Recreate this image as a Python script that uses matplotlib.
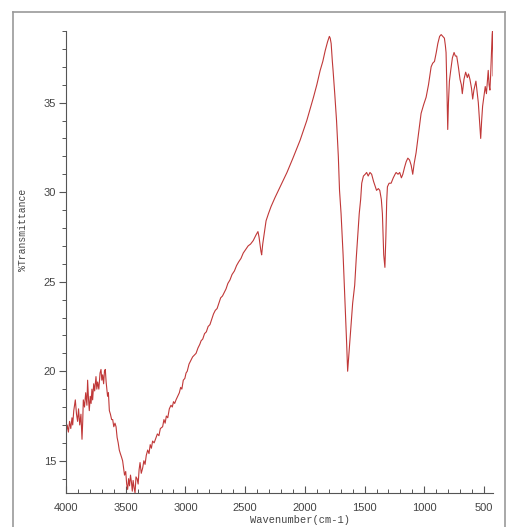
import numpy as np
import matplotlib
matplotlib.use("Agg")
import matplotlib.pyplot as plt
from matplotlib.ticker import MultipleLocator
from matplotlib.lines import Line2D

# FTIR spectrum: wavenumber (cm-1) and % transmittance
wavenumber = [
    4000, 3990, 3980, 3970, 3960, 3950, 3944, 3935, 3922, 3912, 3903, 3895,
    3885, 3875, 3866, 3860, 3855, 3845, 3835, 3825, 3819, 3812, 3805, 3797,
    3790, 3783, 3777, 3768, 3760, 3749, 3742, 3735, 3725, 3715, 3707, 3700,
    3693, 3685, 3678, 3671, 3664, 3658, 3652, 3645, 3637, 3628, 3618, 3609,
    3600, 3590, 3581, 3572, 3563, 3554, 3545, 3535, 3526, 3518, 3510, 3500,
    3492, 3484, 3476, 3468, 3460, 3452, 3445, 3438, 3430, 3422, 3414, 3405,
    3396, 3388, 3380, 3370, 3358, 3348, 3338, 3328, 3316, 3305, 3295, 3285,
    3275, 3262, 3246, 3235, 3222, 3210, 3191, 3180, 3170, 3160, 3148, 3135,
    3121, 3110, 3100, 3090, 3079, 3065, 3051, 3040, 3030, 3018, 3005, 2995,
    2985, 2970, 2955, 2940, 2925, 2911, 2895, 2880, 2869, 2855, 2840, 2825,
    2810, 2795, 2780, 2765, 2750, 2735, 2720, 2705, 2690, 2675, 2660, 2645,
    2627, 2610, 2590, 2572, 2555, 2535, 2516, 2495, 2475, 2455, 2432, 2410,
    2393, 2384, 2376, 2368, 2362, 2356, 2353, 2340, 2325, 2305, 2283, 2250,
    2200, 2150, 2100, 2040, 1984, 1928, 1900, 1872, 1850, 1830, 1810, 1800,
    1795, 1788, 1780, 1770, 1764, 1750, 1735, 1720, 1710, 1697, 1680, 1665,
    1650, 1642, 1620, 1600, 1583, 1570, 1558, 1545, 1533, 1524, 1510, 1495,
    1483, 1470, 1455, 1441, 1425, 1410, 1400, 1385, 1373, 1360, 1351, 1340,
    1330, 1322, 1315, 1309, 1295, 1278, 1260, 1245, 1236, 1220, 1206, 1192,
    1180, 1165, 1152, 1138, 1124, 1110, 1097, 1085, 1069, 1050, 1027, 1005,
    985, 965, 943, 930, 915, 900, 887, 872, 859, 845, 832, 824,
    818, 810, 804, 798, 790, 779, 765, 751, 740, 729, 715, 701,
    690, 682, 668, 654, 640, 630, 618, 605, 595, 585, 568, 558,
    548, 538, 528, 520, 512, 500, 490, 480, 472, 465, 458, 451,
    445, 438, 432, 429, 426, 424,
]
transmittance = [
    16.5, 17.0, 16.6, 17.2, 16.8, 17.4, 17.0, 17.8, 18.4, 17.6, 17.2, 17.9,
    17.0, 17.6, 16.2, 17.2, 18.4, 18.0, 18.8, 18.1, 19.5, 18.5, 17.8, 18.6,
    18.2, 19.0, 18.4, 19.3, 18.9, 19.7, 19.0, 19.4, 19.0, 19.9, 20.1, 19.5,
    19.8, 19.3, 20.0, 20.1, 19.4, 19.0, 18.6, 18.8, 17.8, 17.6, 17.3, 17.3,
    16.9, 17.1, 16.9, 16.3, 16.0, 15.6, 15.4, 15.2, 15.0, 14.6, 14.2, 14.4,
    13.7, 13.4, 14.0, 13.6, 14.2, 13.8, 13.3, 13.9, 13.5, 13.2, 14.1, 14.0,
    13.7, 14.5, 14.9, 14.3, 14.6, 15.0, 14.8, 15.3, 15.6, 15.4, 15.9, 15.7,
    16.1, 16.0, 16.3, 16.5, 16.4, 16.8, 16.9, 17.3, 17.1, 17.5, 17.4, 17.9,
    18.1, 18.0, 18.3, 18.2, 18.4, 18.6, 18.8, 19.1, 19.0, 19.5, 19.6, 19.9,
    20.0, 20.4, 20.6, 20.8, 20.9, 21.0, 21.3, 21.5, 21.7, 21.8, 22.1, 22.2,
    22.5, 22.6, 22.9, 23.2, 23.4, 23.5, 23.8, 24.1, 24.2, 24.4, 24.6, 24.9,
    25.1, 25.4, 25.6, 25.9, 26.1, 26.3, 26.6, 26.8, 27.0, 27.1, 27.3, 27.6,
    27.8, 27.5, 27.1, 26.7, 26.5, 26.9, 27.1, 27.7, 28.4, 28.8, 29.2, 29.7,
    30.4, 31.1, 31.9, 32.9, 34.0, 35.3, 36.0, 36.8, 37.3, 37.9, 38.4, 38.6,
    38.7, 38.6, 38.3, 37.3, 36.8, 35.5, 34.0, 32.0, 30.1, 28.8, 26.5, 24.0,
    21.5, 20.0, 22.0, 23.8, 24.8, 26.3, 27.5, 28.8, 29.6, 30.5, 30.9, 31.0,
    31.1, 30.9, 31.1, 31.0, 30.6, 30.3, 30.1, 30.2, 30.1, 29.6, 28.8, 26.5,
    25.8, 27.5, 29.5, 30.3, 30.5, 30.5, 30.8, 31.0, 31.1, 31.0, 31.1, 30.8,
    31.0, 31.4, 31.7, 31.9, 31.8, 31.5, 31.0, 31.6, 32.2, 33.2, 34.4, 34.9,
    35.3, 36.0, 37.0, 37.2, 37.3, 37.8, 38.3, 38.7, 38.8, 38.7, 38.6, 38.2,
    37.8, 35.5, 33.5, 35.0, 36.2, 36.8, 37.5, 37.8, 37.6, 37.6, 37.0, 36.3,
    36.0, 35.5, 36.3, 36.7, 36.4, 36.6, 36.3, 35.8, 35.2, 35.7, 36.2, 35.6,
    35.0, 34.0, 33.0, 34.0, 34.8, 35.4, 35.9, 35.5, 36.2, 36.8, 36.0, 35.7,
    36.5, 37.8, 38.8, 39.0, 37.5, 36.5,
]

fig = plt.figure(figsize=(5.08, 5.27), dpi=100)
ax = fig.add_axes([66 / 508, 1 - 493 / 527, 427 / 508, 462 / 527])

ax.plot(wavenumber, transmittance, color="#c03838", lw=0.8)

ax.set_xlim(4000, 425)
ax.set_ylim(13.2, 39.0)

ax.xaxis.set_major_locator(MultipleLocator(500))
ax.xaxis.set_minor_locator(MultipleLocator(100))
ax.yaxis.set_major_locator(MultipleLocator(5))
ax.yaxis.set_minor_locator(MultipleLocator(1))

for side in ["top", "right"]:
    ax.spines[side].set_visible(False)
for side in ["left", "bottom"]:
    ax.spines[side].set_color("#555555")
    ax.spines[side].set_linewidth(0.8)

ax.tick_params(axis="x", which="both", direction="in", colors="#555555",
               labelcolor="#444444", labelsize=8, pad=7)
ax.tick_params(axis="x", which="major", length=5, width=0.8)
ax.tick_params(axis="x", which="minor", length=3, width=0.7)
ax.tick_params(axis="y", which="both", direction="out", colors="#555555",
               labelcolor="#444444", labelsize=8, pad=2)
ax.tick_params(axis="y", which="major", length=5, width=0.8)
ax.tick_params(axis="y", which="minor", length=3, width=0.7)

for lbl in ax.get_xticklabels() + ax.get_yticklabels():
    lbl.set_family("Liberation Sans")

fig.text(23 / 508, 1 - 230 / 527, "%Transmittance", rotation=90,
         ha="center", va="center", fontsize=7, color="#444444",
         family="Liberation Mono")
fig.text(300 / 508, 1 - 520 / 527, "Wavenumber(cm-1)", ha="center",
         va="center", fontsize=7.5, color="#444444", family="Liberation Mono")

# grey outer frame, open at the bottom
frame_col = "#999999"
fig.add_artist(Line2D([13 / 508, 13 / 508], [0, 1 - 12 / 527],
                      transform=fig.transFigure, color=frame_col, lw=1.2))
fig.add_artist(Line2D([13 / 508, 505 / 508], [1 - 12 / 527, 1 - 12 / 527],
                      transform=fig.transFigure, color=frame_col, lw=1.2))
fig.add_artist(Line2D([505 / 508, 505 / 508], [0, 1 - 12 / 527],
                      transform=fig.transFigure, color=frame_col, lw=1.2))

fig.savefig("out.png", dpi=100)
